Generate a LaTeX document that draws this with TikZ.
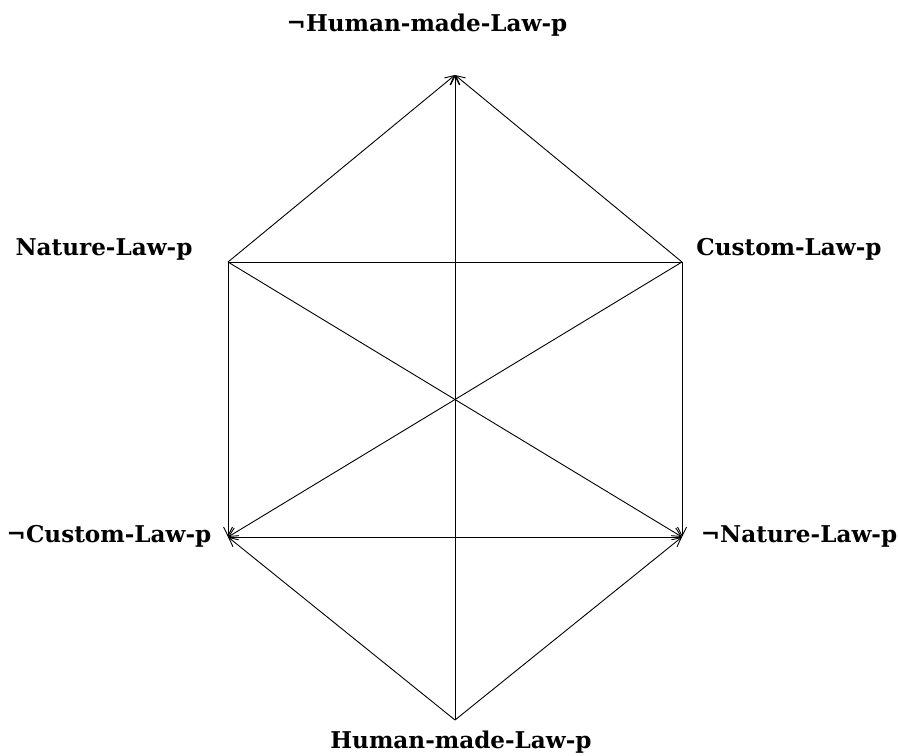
\documentclass[tikz,border=0pt]{standalone}
\usepackage{fontspec}
\setmainfont{DejaVu Serif}
\usetikzlibrary{arrows.meta}
\begin{document}
\begin{tikzpicture}[x=1bp,y=-1bp,
  lbl/.style={font=\fontsize{23.2}{28}\selectfont\bfseries, inner sep=0pt},
  edge/.style={line width=0.9bp, black},
  arr/.style={edge, -{Straight Barb[length=9bp,width=9bp]}}]
\useasboundingbox (0,0) rectangle (898,756);
\coordinate (nhm) at (455,75);
\coordinate (nat) at (228,262);
\coordinate (cus) at (682,262);
\coordinate (ncu) at (228,537);
\coordinate (nna) at (682,537);
\coordinate (hm)  at (455,720);
\node[lbl] (Lnhm) at (427,25) {¬Human-made-Law-p};
\node[lbl] (Lnat) at (104,249) {Nature-Law-p};
\node[lbl] (Lcus) at (789,249) {Custom-Law-p};
\node[lbl] (Lncu) at (109,536) {¬Custom-Law-p};
\node[lbl] (Lnna) at (799,536) {¬Nature-Law-p};
\node[lbl] (Lhm)  at (461,742) {Human-made-Law-p};
\draw[edge] (nat) -- (cus);
\draw[edge] (ncu) -- (nna);
\draw[arr] (nat) -- (nhm);
\draw[arr] (cus) -- (nhm);
\draw[arr] (hm) -- (nhm);
\draw[arr] (nat) -- (ncu);
\draw[arr] (cus) -- (ncu);
\draw[arr] (hm) -- (ncu);
\draw[arr] (nat) -- (nna);
\draw[arr] (cus) -- (nna);
\draw[arr] (hm) -- (nna);
\end{tikzpicture}
\end{document}
